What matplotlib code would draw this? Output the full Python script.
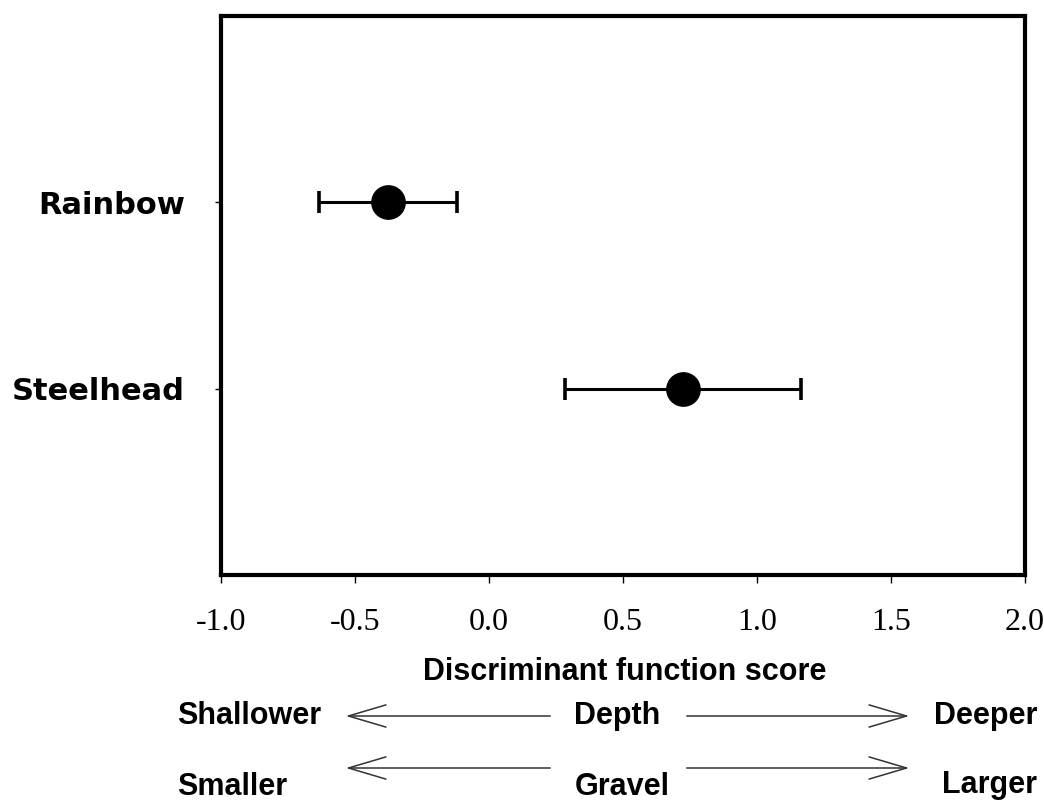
import matplotlib
matplotlib.use("Agg")
import matplotlib.pyplot as plt
from matplotlib.patches import FancyArrowPatch

# vrednosti procitane sa slike
gruppe = ["Rainbow", "Steelhead"]
ypos = [2, 1]
skor = [-0.378, 0.725]
greska = [0.257, 0.44]
xticke = [-1.0, -0.5, 0.0, 0.5, 1.0, 1.5, 2.0]

fig = plt.figure(figsize=(10.44, 8.01), dpi=100)
ax = fig.add_axes([221 / 1044, 1 - 575 / 801, 804 / 1044, 559 / 801])

ax.errorbar(skor, ypos, xerr=greska, fmt="o", color="black", markersize=24,
            elinewidth=2.2, capsize=8, capthick=2.6)

ax.set_xlim(-1.0, 2.0)
ax.set_ylim(0, 3)
ax.set_xticks(xticke)
ax.set_xticklabels(["%.1f" % x for x in xticke], family="Liberation Serif", fontsize=23)
ax.set_yticks(ypos)
ax.set_yticklabels(gruppe, family="DejaVu Sans", fontweight="bold", fontsize=22)
ax.tick_params(axis="x", length=6, width=1.0, pad=18)
ax.tick_params(axis="y", length=4, width=1.0, pad=22)
for s in ax.spines.values():
    s.set_linewidth(3)

# tekst i strelice ispod ose (u pikselima slike)
def px(x, y):
    return x / 1044, 1 - y / 801

font = dict(family="Liberation Sans", fontweight="bold", fontsize=22, va="center")
fig.text(*px(625, 672), "Discriminant function score", ha="center", **font)
fig.text(*px(177, 716), "Shallower", ha="left", **font)
fig.text(*px(617, 716), "Depth", ha="center", **font)
fig.text(*px(1037, 716), "Deeper", ha="right", **font)
fig.text(*px(177, 787), "Smaller", ha="left", **font)
fig.text(*px(622, 787), "Gravel", ha="center", **font)
fig.text(*px(1037, 785), "Larger", ha="right", **font)

stil = "->,head_length=27,head_width=8"
for y1, y2 in [(716, 716), (768, 768)]:
    fig.add_artist(FancyArrowPatch(px(553, y1), px(343, y2), transform=fig.transFigure,
                                   arrowstyle=stil, mutation_scale=1, color="#333333", lw=1.1))
    fig.add_artist(FancyArrowPatch(px(684, y1), px(912, y2), transform=fig.transFigure,
                                   arrowstyle=stil, mutation_scale=1, color="#333333", lw=1.1))

fig.savefig("out.png", dpi=100)
